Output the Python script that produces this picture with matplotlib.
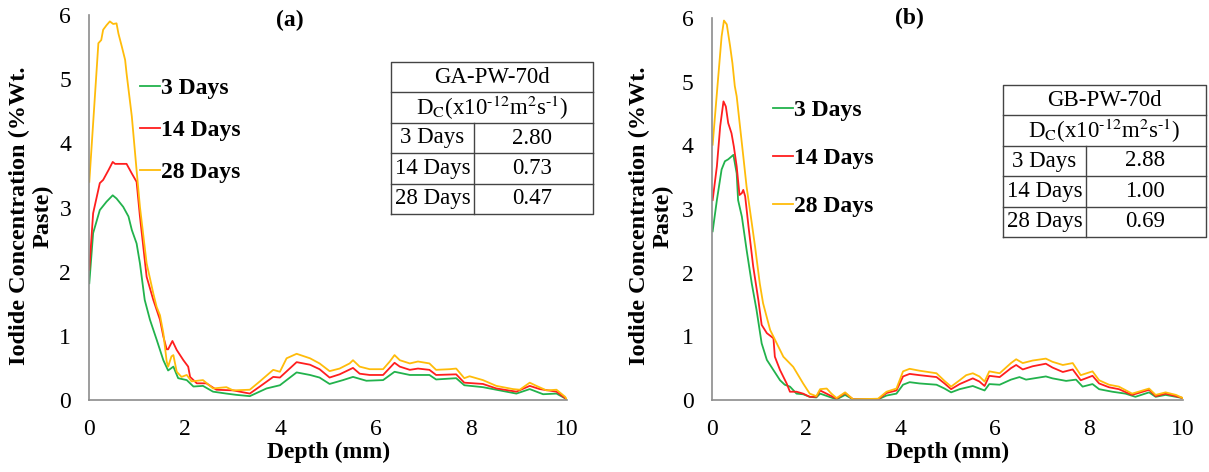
"""
Iodide concentration profiles vs depth, panels (a) GA-PW-70d and (b) GB-PW-70d.
"""
import matplotlib
matplotlib.use('Agg')
import matplotlib.pyplot as plt
from matplotlib.lines import Line2D

plt.rcParams['font.family'] = ['Liberation Serif', 'DejaVu Serif']
plt.rcParams['mathtext.fontset'] = 'stix'

# ---- panel (a) data ----
depth_a_3 = [0, 0.08, 0.22, 0.36, 0.49, 0.57, 0.71, 0.82, 0.89, 0.99, 1.06, 1.16, 1.27, 1.41, 1.55, 1.65,
             1.76, 1.86, 2.04, 2.18, 2.38, 2.59, 2.87, 3.08, 3.36, 3.71, 3.99, 4.34, 4.62, 4.82, 5.03,
             5.31, 5.52, 5.80, 6.15, 6.39, 6.71, 7.12, 7.26, 7.68, 7.85, 8.24, 8.59, 8.94, 9.22, 9.50,
             9.78, 10.0]
conc_a_3 = [1.82, 2.60, 2.96, 3.09, 3.19, 3.14, 3.01, 2.86, 2.65, 2.44, 2.13, 1.56, 1.25, 0.94, 0.62, 0.46,
            0.52, 0.34, 0.31, 0.21, 0.22, 0.13, 0.10, 0.08, 0.06, 0.18, 0.23, 0.43, 0.39, 0.35, 0.25,
            0.31, 0.36, 0.30, 0.31, 0.44, 0.39, 0.39, 0.32, 0.34, 0.23, 0.20, 0.15, 0.10, 0.17, 0.09,
            0.10, 0.01]

depth_a_14 = [0, 0.08, 0.22, 0.29, 0.40, 0.49, 0.54, 0.78, 0.89, 0.99, 1.06, 1.20, 1.34, 1.48, 1.55, 1.62,
              1.65, 1.74, 1.83, 1.97, 2.07, 2.11, 2.25, 2.45, 2.66, 3.01, 3.36, 3.57, 3.85, 3.99, 4.34,
              4.62, 4.82, 5.03, 5.24, 5.52, 5.66, 5.87, 6.15, 6.39, 6.50, 6.71, 6.88, 7.12, 7.26, 7.68,
              7.85, 8.24, 8.52, 8.94, 9.22, 9.43, 9.78, 9.96, 10.0]
conc_a_14 = [2.03, 2.91, 3.38, 3.43, 3.58, 3.71, 3.68, 3.68, 3.53, 3.40, 2.86, 1.92, 1.56, 1.25, 0.99, 0.79,
             0.79, 0.92, 0.78, 0.62, 0.52, 0.36, 0.26, 0.26, 0.16, 0.15, 0.10, 0.21, 0.36, 0.35, 0.59,
             0.55, 0.48, 0.35, 0.40, 0.50, 0.41, 0.39, 0.39, 0.58, 0.52, 0.47, 0.49, 0.47, 0.39, 0.40,
             0.27, 0.25, 0.18, 0.13, 0.22, 0.17, 0.13, 0.03, 0.0]

depth_a_28 = [0, 0.19, 0.25, 0.29, 0.36, 0.43, 0.50, 0.57, 0.61, 0.68, 0.75, 0.78, 0.89, 0.99, 1.06, 1.20,
              1.34, 1.41, 1.48, 1.55, 1.62, 1.65, 1.72, 1.76, 1.83, 1.93, 2.04, 2.14, 2.38, 2.59, 2.87,
              3.01, 3.36, 3.57, 3.85, 3.99, 4.13, 4.34, 4.62, 4.82, 5.03, 5.24, 5.45, 5.52, 5.66, 5.87,
              6.15, 6.29, 6.39, 6.50, 6.71, 6.88, 7.12, 7.26, 7.54, 7.68, 7.85, 7.96, 8.24, 8.52, 8.87,
              9.01, 9.22, 9.36, 9.57, 9.78, 9.96, 10.0]
conc_a_28 = [3.40, 5.56, 5.61, 5.77, 5.84, 5.90, 5.86, 5.87, 5.71, 5.51, 5.30, 5.09, 4.42, 3.58, 3.01, 2.13,
             1.66, 1.45, 1.32, 1.04, 0.60, 0.52, 0.68, 0.70, 0.44, 0.36, 0.39, 0.29, 0.31, 0.18, 0.20,
             0.15, 0.16, 0.29, 0.47, 0.44, 0.65, 0.72, 0.65, 0.57, 0.45, 0.49, 0.57, 0.62, 0.52, 0.48,
             0.48, 0.60, 0.70, 0.62, 0.57, 0.60, 0.57, 0.47, 0.48, 0.49, 0.34, 0.37, 0.31, 0.22, 0.17,
             0.16, 0.27, 0.22, 0.15, 0.16, 0.05, 0.0]

# ---- panel (b) data ----
depth_b_3 = [0.02, 0.11, 0.21, 0.28, 0.35, 0.46, 0.53, 0.56, 0.64, 0.74, 0.85, 0.95, 1.06, 1.17, 1.31, 1.45,
             1.55, 1.66, 1.80, 1.94, 2.08, 2.22, 2.30, 2.65, 2.83, 3.00, 3.53, 3.71, 3.92, 4.06, 4.20,
             4.41, 4.77, 4.94, 5.08, 5.26, 5.54, 5.68, 5.79, 5.89, 6.11, 6.35, 6.53, 6.67, 7.09, 7.23,
             7.52, 7.73, 7.87, 8.08, 8.22, 8.50, 8.78, 8.99, 9.28, 9.42, 9.63, 10.0]
conc_b_3 = [2.65, 3.14, 3.62, 3.75, 3.78, 3.85, 3.56, 3.14, 2.88, 2.36, 1.83, 1.42, 0.89, 0.63, 0.47, 0.31,
            0.24, 0.21, 0.10, 0.09, 0.05, 0.04, 0.10, 0.01, 0.08, 0.01, 0.01, 0.07, 0.10, 0.24, 0.28,
            0.26, 0.24, 0.18, 0.12, 0.17, 0.22, 0.18, 0.15, 0.25, 0.24, 0.32, 0.36, 0.32, 0.37, 0.34,
            0.30, 0.32, 0.21, 0.25, 0.17, 0.13, 0.10, 0.05, 0.12, 0.05, 0.08, 0.03]

depth_b_14 = [0.02, 0.11, 0.18, 0.25, 0.30, 0.35, 0.42, 0.47, 0.53, 0.59, 0.64, 0.67, 0.71, 0.78, 0.88, 0.99,
              1.06, 1.17, 1.31, 1.34, 1.45, 1.59, 1.66, 1.80, 1.94, 2.08, 2.22, 2.30, 2.65, 2.83, 3.00,
              3.53, 3.71, 3.92, 4.06, 4.20, 4.41, 4.77, 4.94, 5.08, 5.26, 5.54, 5.68, 5.79, 5.89, 6.11,
              6.35, 6.46, 6.60, 6.81, 7.09, 7.23, 7.45, 7.66, 7.83, 8.08, 8.22, 8.43, 8.64, 8.92, 9.28,
              9.42, 9.63, 9.85, 10.0]
conc_b_14 = [3.14, 3.67, 4.30, 4.69, 4.61, 4.35, 4.19, 3.98, 3.67, 3.22, 3.25, 3.30, 3.20, 2.73, 2.10, 1.57,
             1.18, 1.05, 0.97, 0.68, 0.47, 0.26, 0.13, 0.13, 0.10, 0.05, 0.05, 0.15, 0.02, 0.11, 0.01,
             0.01, 0.11, 0.15, 0.37, 0.41, 0.39, 0.36, 0.26, 0.17, 0.25, 0.34, 0.29, 0.22, 0.38, 0.36,
             0.50, 0.55, 0.48, 0.53, 0.57, 0.51, 0.44, 0.48, 0.31, 0.38, 0.26, 0.20, 0.17, 0.08, 0.16,
             0.06, 0.10, 0.06, 0.03]

depth_b_28 = [0.02, 0.11, 0.21, 0.26, 0.32, 0.39, 0.44, 0.49, 0.53, 0.60, 0.67, 0.74, 0.81, 0.92, 1.02, 1.09,
              1.24, 1.38, 1.52, 1.73, 1.94, 2.08, 2.22, 2.30, 2.44, 2.54, 2.65, 2.83, 3.00, 3.53, 3.71,
              3.92, 4.06, 4.20, 4.41, 4.77, 4.94, 5.08, 5.26, 5.40, 5.54, 5.68, 5.79, 5.89, 6.11, 6.35,
              6.46, 6.60, 6.81, 7.09, 7.23, 7.45, 7.66, 7.83, 8.08, 8.22, 8.43, 8.64, 8.92, 9.28, 9.42,
              9.63, 9.85, 10.0]
conc_b_28 = [4.01, 4.82, 5.71, 5.96, 5.90, 5.56, 5.29, 4.93, 4.77, 4.30, 3.83, 3.35, 2.99, 2.41, 1.83, 1.52,
             1.10, 0.89, 0.68, 0.52, 0.26, 0.10, 0.06, 0.17, 0.18, 0.10, 0.03, 0.12, 0.01, 0.02, 0.13,
             0.18, 0.45, 0.49, 0.46, 0.42, 0.30, 0.21, 0.31, 0.39, 0.42, 0.37, 0.29, 0.45, 0.42, 0.58,
             0.64, 0.58, 0.62, 0.65, 0.60, 0.55, 0.58, 0.39, 0.45, 0.31, 0.24, 0.21, 0.10, 0.18, 0.08,
             0.12, 0.08, 0.03]

series_labels = ['3 Days', '14 Days', '28 Days']
series_colors = ['#22B24C', '#FF1E1E', '#FFBC0A']

table_a_title = 'GA-PW-70d'
table_b_title = 'GB-PW-70d'
dc_header = 'D$_{\\mathrm{C}}$(x10$^{\u2010\\mathrm{12}}$m$^{2}$s$^{\u2010\\mathrm{1}}$)'
table_a_values = ['2.80', '0.73', '0.47']
table_b_values = ['2.88', '1.00', '0.69']

W, H = 1209, 472
fig = plt.figure(figsize=(W / 100, H / 100), dpi=100)


def px_box(x0, y0, x1, y1):
    """pixel box (top-left origin) -> figure fraction rect"""
    return [x0 / W, 1 - y1 / H, (x1 - x0) / W, (y1 - y0) / H]


def style_axes(ax):
    ax.set_xlim(0, 10)
    ax.set_ylim(0, 6)
    ax.set_xticks([0, 2, 4, 6, 8, 10])
    ax.set_yticks([0, 1, 2, 3, 4, 5, 6])
    for s in ['top', 'right']:
        ax.spines[s].set_visible(False)
    for s in ['left', 'bottom']:
        ax.spines[s].set_color('#8c8c8c')
        ax.spines[s].set_linewidth(1.2)
    ax.tick_params(axis='x', length=0, pad=14, labelsize=17)
    ax.tick_params(axis='y', length=0, pad=13, labelsize=17)
    ax.set_xlabel('Depth (mm)', fontsize=17, fontweight='bold', labelpad=1)


def draw_table(rect, title, values):
    tax = fig.add_axes(rect)
    tax.set_xlim(0, 1)
    tax.set_ylim(0, 5)
    tax.axis('off')
    lw = 1.0
    tax.plot([0, 1, 1, 0, 0], [0, 0, 5, 5, 0], color='#444444', lw=lw, clip_on=False)
    for yy in [1, 2, 3, 4]:
        tax.plot([0, 1], [yy, yy], color='#444444', lw=lw, clip_on=False)
    tax.plot([0.41, 0.41], [0, 3], color='#444444', lw=lw, clip_on=False)
    fs = 16.5
    tax.text(0.5, 4.5, title, ha='center', va='center', fontsize=fs)
    tax.text(0.5, 3.5, dc_header, ha='center', va='center', fontsize=fs)
    for i, (lab, val) in enumerate(zip(series_labels, values)):
        yc = 2.5 - i
        tax.text(0.205, yc, lab, ha='center', va='center', fontsize=fs)
        tax.text(0.70, yc, val, ha='center', va='center', fontsize=fs)


def add_legend(ax, anchor, spacing):
    handles = [Line2D([], [], color=c, lw=1.3) for c in series_colors]
    ax.legend(handles, series_labels, loc='upper left', bbox_to_anchor=anchor,
              frameon=False, handlelength=0.85, handletextpad=0.05, borderpad=0,
              borderaxespad=0, labelspacing=spacing,
              prop={'weight': 'bold', 'size': 17})


# ---- panel (a) ----
ax1 = fig.add_axes(px_box(89.3, 15, 567, 400))
ax1.plot(depth_a_3, conc_a_3, color=series_colors[0], lw=1.3)
ax1.plot(depth_a_14, conc_a_14, color=series_colors[1], lw=1.3)
ax1.plot(depth_a_28, conc_a_28, color=series_colors[2], lw=1.3)
style_axes(ax1)
add_legend(ax1, (0.106, 0.837), 0.87)
fig.text(290 / W, 1 - 20 / H, '(a)', ha='center', va='center', fontsize=17, fontweight='bold')
fig.text(31 / W, 1 - 216 / H, 'Iodide Concentration (%Wt.\nPaste)', rotation=90,
         ha='center', va='center', multialignment='center', fontsize=17.5, fontweight='bold',
         linespacing=1.15)
draw_table(px_box(391, 62, 593, 214), table_a_title, table_a_values)

# ---- panel (b) ----
ax2 = fig.add_axes(px_box(711.7, 18, 1183, 400))
ax2.plot(depth_b_3, conc_b_3, color=series_colors[0], lw=1.3)
ax2.plot(depth_b_14, conc_b_14, color=series_colors[1], lw=1.3)
ax2.plot(depth_b_28, conc_b_28, color=series_colors[2], lw=1.3)
style_axes(ax2)
add_legend(ax2, (0.13, 0.787), 1.12)
fig.text(909 / W, 1 - 18 / H, '(b)', ha='center', va='center', fontsize=17, fontweight='bold')
fig.text(651 / W, 1 - 216 / H, 'Iodide Concentration (%Wt.\nPaste)', rotation=90,
         ha='center', va='center', multialignment='center', fontsize=17.5, fontweight='bold',
         linespacing=1.15)
draw_table(px_box(1003, 85, 1206, 237), table_b_title, table_b_values)

fig.savefig('out.png', dpi=100)
